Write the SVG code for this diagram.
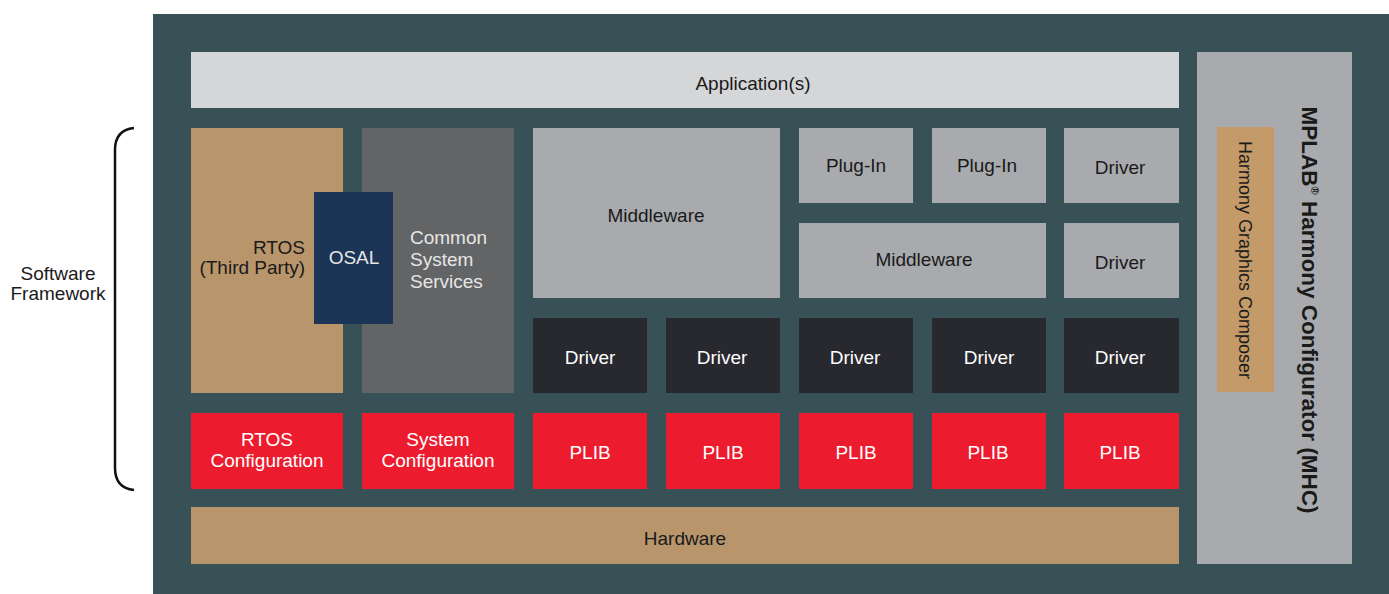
<svg xmlns="http://www.w3.org/2000/svg" width="1389" height="594" viewBox="0 0 1389 594">
<style>
text{font-family:"Liberation Sans",Arial,sans-serif;font-size:19px;text-anchor:middle}
.lg{fill:#A8AAAD}
.dk{fill:#28282F}
.rd{fill:#EC1C2E}
.tan{fill:#B8956A}
.tb{fill:#1a1a1a}
.tw{fill:#ffffff}
</style>
<rect x="0" y="0" width="1389" height="594" fill="#ffffff"/>
<rect id="frame" x="153" y="14" width="1236" height="580" fill="#385157"/>
<g id="bracket">
<path d="M134,128 Q115,130 115,150 L115,468 Q115,488 134,490" fill="none" stroke="#111" stroke-width="2.5"/>
<text x="58" y="280" class="tb">Software</text>
<text x="58" y="300" class="tb">Framework</text>
</g>
<g id="application"><rect x="191" y="52" width="988" height="56" fill="#D5D6D8"/><text x="753" y="90" class="tb">Application(s)</text></g>
<g id="rtos"><rect x="191" y="128" width="152" height="265" class="tan"/><text x="305" y="254" style="text-anchor:end" class="tb">RTOS</text><text x="305" y="274" style="text-anchor:end" class="tb">(Third Party)</text></g>
<g id="css"><rect x="362" y="128" width="152" height="265" fill="#636466"/><text x="410" y="244" style="text-anchor:start" fill="#E6E6E6">Common</text><text x="410" y="266" style="text-anchor:start" fill="#E6E6E6">System</text><text x="410" y="288" style="text-anchor:start" fill="#E6E6E6">Services</text></g>
<g id="osal"><rect x="314" y="192" width="79" height="132" fill="#1C3456"/><text x="354" y="264" fill="#E6E6E6">OSAL</text></g>
<g id="middleware1"><rect x="533" y="128" width="247" height="170" class="lg"/><text x="656" y="222" class="tb">Middleware</text></g>
<g id="plugin1"><rect x="799" y="128" width="114" height="75" class="lg"/><text x="856" y="172" class="tb">Plug-In</text></g>
<g id="plugin2"><rect x="932" y="128" width="114" height="75" class="lg"/><text x="987" y="172" class="tb">Plug-In</text></g>
<g id="driverTop"><rect x="1064" y="128" width="115" height="75" class="lg"/><text x="1120" y="174" class="tb">Driver</text></g>
<g id="middleware2"><rect x="799" y="223" width="247" height="75" class="lg"/><text x="924" y="266" class="tb">Middleware</text></g>
<g id="driverMid"><rect x="1064" y="223" width="115" height="75" class="lg"/><text x="1120" y="269" class="tb">Driver</text></g>
<g id="driver1"><rect x="533" y="318" width="114" height="75" class="dk"/><text x="590" y="364" class="tw">Driver</text></g>
<g id="driver2"><rect x="666" y="318" width="114" height="75" class="dk"/><text x="722" y="364" class="tw">Driver</text></g>
<g id="driver3"><rect x="799" y="318" width="114" height="75" class="dk"/><text x="855" y="364" class="tw">Driver</text></g>
<g id="driver4"><rect x="932" y="318" width="114" height="75" class="dk"/><text x="989" y="364" class="tw">Driver</text></g>
<g id="driver5"><rect x="1064" y="318" width="115" height="75" class="dk"/><text x="1120" y="364" class="tw">Driver</text></g>
<g id="rtosConfig"><rect x="191" y="413" width="152" height="76" class="rd"/><text x="267" y="446" class="tw">RTOS</text><text x="267" y="467" class="tw">Configuration</text></g>
<g id="sysConfig"><rect x="362" y="413" width="152" height="76" class="rd"/><text x="438" y="446" class="tw">System</text><text x="438" y="467" class="tw">Configuration</text></g>
<g id="plib1"><rect x="533" y="413" width="114" height="76" class="rd"/><text x="590" y="459" class="tw">PLIB</text></g>
<g id="plib2"><rect x="666" y="413" width="114" height="76" class="rd"/><text x="723" y="459" class="tw">PLIB</text></g>
<g id="plib3"><rect x="799" y="413" width="114" height="76" class="rd"/><text x="856" y="459" class="tw">PLIB</text></g>
<g id="plib4"><rect x="932" y="413" width="114" height="76" class="rd"/><text x="988" y="459" class="tw">PLIB</text></g>
<g id="plib5"><rect x="1064" y="413" width="115" height="76" class="rd"/><text x="1120" y="459" class="tw">PLIB</text></g>
<g id="hardware"><rect x="191" y="507" width="988" height="57" class="tan"/><text x="685" y="545" class="tb">Hardware</text></g>
<g id="mhc"><rect x="1197" y="52" width="155" height="512" class="lg"/>
<text transform="translate(1302,310) rotate(90)" style="font-weight:bold;font-size:22.5px" class="tb">MPLAB<tspan style="font-size:11px" dy="-9">®</tspan><tspan dy="9"> Harmony Configurator (MHC)</tspan></text>
</g>
<g id="hgc"><rect x="1217" y="127" width="57" height="265" fill="#C39A68"/><text transform="translate(1239,260) rotate(90)" style="font-size:18px" class="tb">Harmony Graphics Composer</text></g>
</svg>
